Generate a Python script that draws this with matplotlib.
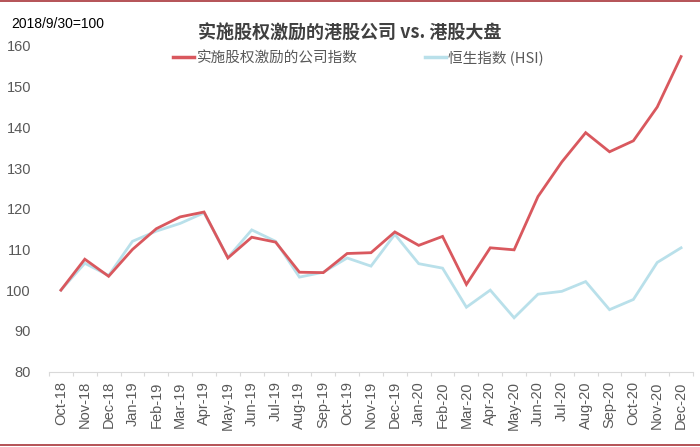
import numpy as np
import matplotlib
matplotlib.use('Agg')
from matplotlib import pyplot as plt
from matplotlib.lines import Line2D

plt.rcParams['font.family'] = ['Liberation Sans', 'Noto Sans CJK SC', 'DejaVu Sans']

months = ['Oct-18', 'Nov-18', 'Dec-18', 'Jan-19', 'Feb-19', 'Mar-19', 'Apr-19',
          'May-19', 'Jun-19', 'Jul-19', 'Aug-19', 'Sep-19', 'Oct-19', 'Nov-19',
          'Dec-19', 'Jan-20', 'Feb-20', 'Mar-20', 'Apr-20', 'May-20', 'Jun-20',
          'Jul-20', 'Aug-20', 'Sep-20', 'Oct-20', 'Nov-20', 'Dec-20']

# index of companies with equity incentive plans
incentive_idx = [100.0, 107.6, 103.4, 110.0, 115.1, 118.0, 119.2, 107.9, 113.0, 111.8,
                 104.4, 104.3, 109.0, 109.2, 114.3, 111.0, 113.2, 101.4, 110.4, 109.9,
                 123.0, 131.5, 138.7, 134.0, 136.7, 145.0, 157.4]
# Hang Seng Index rebased
hsi_idx = [100.0, 106.6, 103.6, 112.0, 114.5, 116.4, 119.0, 108.0, 114.8, 112.0,
           103.2, 104.4, 107.9, 105.9, 113.7, 106.5, 105.4, 95.8, 100.0, 93.2,
           99.0, 99.7, 102.1, 95.2, 97.7, 106.8, 110.4]

red = '#d9585e'
blue = '#b9e0ea'
txt = '#595959'

fig = plt.figure(figsize=(7, 4.47), dpi=100)
ax = fig.add_axes([0.07, 0.1689, 0.92, 0.7282])

x = np.arange(len(months))
ax.plot(x, hsi_idx, color=blue, lw=2.0, solid_joinstyle='miter')
ax.plot(x, incentive_idx, color=red, lw=2.0, solid_joinstyle='miter')

ax.set_xlim(-0.5, len(months) - 0.5)
ax.set_ylim(80, 160)
ax.set_yticks(np.arange(80, 161, 10))
ax.set_xticks(x)
ax.set_xticklabels(months, rotation=90, fontsize=10.5, color=txt)
ax.set_xticks(np.arange(-0.5, len(months)), minor=True)
ax.tick_params(axis='x', which='major', length=0, pad=7)
ax.tick_params(axis='x', which='minor', length=3, color='#d9d9d9', width=0.8)
ax.tick_params(axis='y', length=0, labelsize=10.5, labelcolor=txt, pad=13)

for s in ['top', 'right', 'left']:
    ax.spines[s].set_visible(False)
ax.spines['bottom'].set_color('#d9d9d9')
ax.spines['bottom'].set_linewidth(0.8)

fig.text(0.5, 1 - 33 / 447, '实施股权激励的港股公司 vs. 港股大盘', ha='center', va='center',
         fontsize=13, fontweight='bold', color='#404040',
         family=['Noto Sans CJK SC', 'DejaVu Sans'])
fig.text(11 / 700, 1 - 24 / 447, '2018/9/30=100', ha='left', va='center',
         fontsize=10, color='black')

handles = [Line2D([], [], color=red, lw=2.5), Line2D([], [], color=blue, lw=2.5)]
leg = fig.legend(handles, ['实施股权激励的公司指数', '恒生指数 (HSI)'], ncol=2,
                 loc='center', bbox_to_anchor=(0.512, 1 - 58 / 447), frameon=False,
                 handlelength=1.45, handletextpad=0.15, columnspacing=4.6,
                 prop={'family': ['Noto Sans CJK SC', 'DejaVu Sans'], 'size': 10.5})
for t in leg.get_texts():
    t.set_color(txt)

# dark red frame lines at top and bottom
fig.add_artist(Line2D([0, 1], [1 - 1 / 447, 1 - 1 / 447], transform=fig.transFigure,
                      color='#a8353a', lw=1.2))
fig.add_artist(Line2D([0, 1], [2 / 447, 2 / 447], transform=fig.transFigure,
                      color='#a8353a', lw=1.2))

fig.savefig('out.png', dpi=100)
